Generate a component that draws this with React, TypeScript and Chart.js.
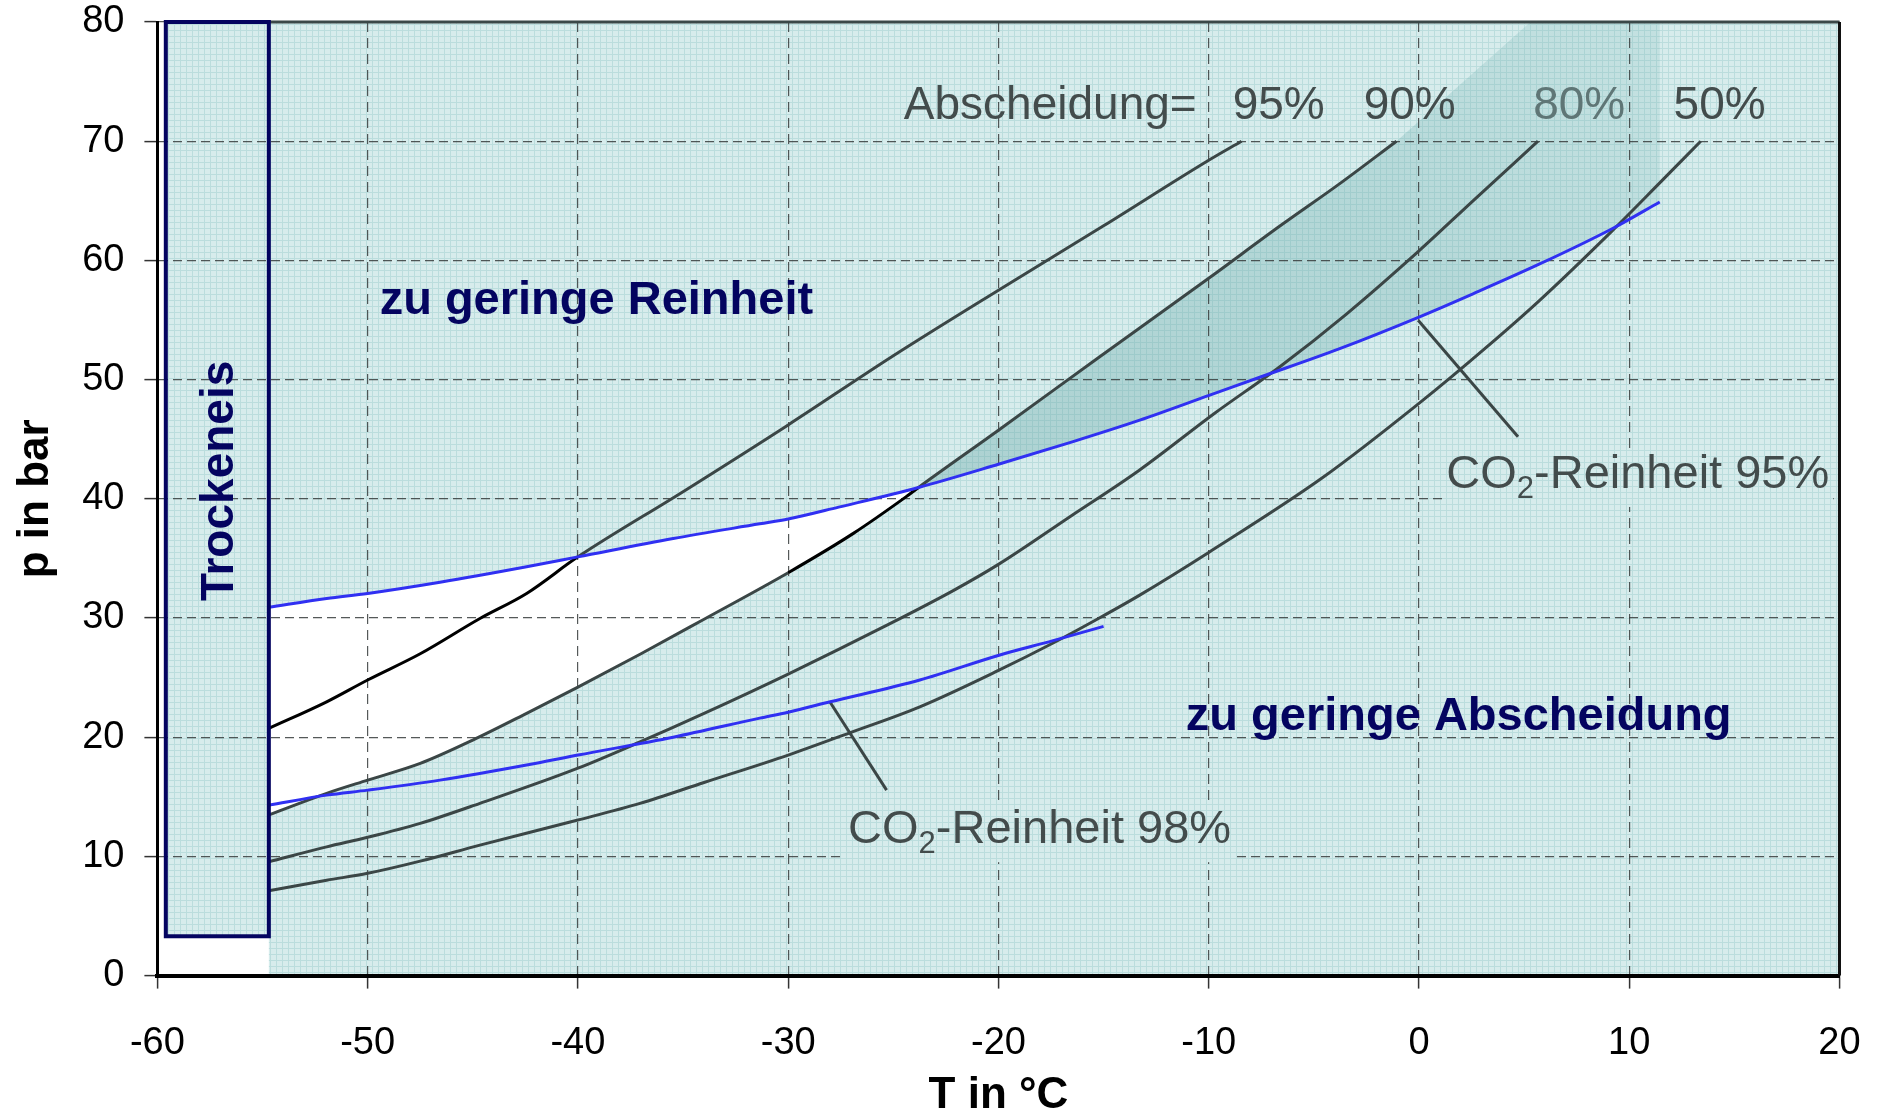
import React, { useEffect, useRef } from 'react';
import { Chart, registerables } from 'chart.js';

Chart.register(...registerables);

// ---------- axes ----------
const X_MIN = -60;
const X_MAX = 20;
const Y_MIN = 0;
const Y_MAX = 80;
const STEP = 10;

// ---------- Abscheidung curves (T in °C, p in bar) ----------
const T_A95 = [-54.7, -51.95, -50, -47.5, -44.66, -42.44, -40, -35, -30, -25, -20, -15, -10, -8.44];
const P_A95 = [20.74, 22.97, 24.8, 27.0, 29.96, 32.06, 35.13, 40.6, 46.2, 52.0, 57.5, 62.9, 68.4, 70.0];

const T_A90 = [-54.7, -51.95, -50, -47.5, -45, -42.44, -40, -37, -34, -30, -26.9, -24.4, -23.8, -20, -15.2, -10, -6.6, -3.8, -1.07];
const P_A90 = [13.48, 15.29, 16.4, 17.8, 19.76, 22.0, 24.2, 27.0, 29.9, 33.8, 37.1, 40.16, 40.95, 45.75, 51.9, 58.5, 62.9, 66.4, 70.0];

const T_A80 = [-54.7, -51.95, -50, -47.5, -44.66, -40, -37.05, -34, -30, -25.3, -22.15, -20, -16.6, -13.3, -9.7, -6.6, -3.45, 0, 2.57, 5.66];
const P_A80 = [9.55, 10.8, 11.6, 12.77, 14.45, 17.4, 19.6, 22.0, 25.3, 29.4, 32.3, 34.5, 38.5, 42.4, 47.2, 51.1, 55.5, 60.8, 65.0, 70.0];

const T_A50 = [-54.7, -51.95, -50, -47.5, -44.66, -40, -37.05, -34, -30, -27.07, -23.74, -20, -17.4, -15.2, -13.3, -10, -4.56, 0, 3.2, 5.74, 9.2, 11.45, 13.4];
const P_A50 = [7.12, 8.0, 8.58, 9.6, 10.95, 13.05, 14.45, 16.2, 18.5, 20.37, 22.55, 25.6, 27.9, 30.0, 31.9, 35.5, 41.8, 48.0, 52.7, 56.65, 62.5, 66.5, 70.0];

// ---------- CO2-Reinheit curves ----------
const T_R95 = [-54.7, -51.95, -50, -46.56, -42.44, -40, -35.47, -31.35, -30, -27.6, -23.8, -20, -16.45, -13.28, -9.95, -7.57, -3.77, 0, 2.57, 5.74, 9.23, 11.45];
const P_R95 = [30.9, 31.64, 32.06, 33.0, 34.3, 35.13, 36.67, 37.9, 38.3, 39.3, 40.95, 42.9, 44.8, 46.6, 48.7, 50.2, 52.6, 55.25, 57.2, 59.7, 62.7, 64.9];

const T_R98 = [-54.7, -51.95, -50, -46.56, -42.44, -40, -35.47, -31.35, -30, -28, -23.74, -19.93, -17.4, -15];
const P_R98 = [14.3, 15.14, 15.56, 16.4, 17.66, 18.5, 20.0, 21.6, 22.1, 22.97, 24.8, 26.9, 28.1, 29.3];

// ---------- leader lines ----------
const T_LEAD95 = [-0.04, 4.71];
const P_LEAD95 = [54.98, 45.2];
const T_LEAD98 = [-28.02, -25.32];
const P_LEAD98 = [22.97, 15.56];

// ---------- regions ----------
const ICE_T = [-59.6, -54.7];
const ICE_P = [3.3, 80];
const WHITE_LIMIT_T = -23.8;
const SHADE_CORNER_T = [5.3, 11.45];
const SHADE_CORNER_P = [80, 80];

// ---------- labels ----------
const ABSCH_LABELS = ['Abscheidung=', '95%', '90%', '80%', '50%'];
const ABSCH_LABEL_T = [-24.5, -8.86, -2.63, 5.43, 12.11];
const ABSCH_LABEL_P = 72.9;
const REGION_LABELS = ['zu geringe Reinheit', 'zu geringe Abscheidung'];
const REGION_LABEL_T = [-49.43, -11.09];
const REGION_LABEL_P = [56.6, 21.7];
const PURITY_SUFFIX = ['-Reinheit 95%', '-Reinheit 98%'];
const PURITY_LABEL_T = [1.3, -27.15];
const PURITY_LABEL_P = [42.0, 12.2];
const ICE_LABEL = 'Trockeneis';
const ICE_LABEL_T = -57.03;
const ICE_LABEL_P = 41.5;

const GRAY = '#3b4646';
const BLUE = '#3030f2';
const NAVY = '#040460';
const LABEL_GRAY = '#434c4c';
const FONT = '"Liberation Sans", Arial, sans-serif';

const pts = (xs: number[], ys: number[]) => xs.map((x, i) => ({ x, y: ys[i] }));

let patternCache: CanvasPattern | null = null;
function getPattern(ctx: CanvasRenderingContext2D) {
  if (patternCache) return patternCache;
  const c = document.createElement('canvas');
  c.width = 6;
  c.height = 6;
  const g = c.getContext('2d')!;
  g.fillStyle = '#d7ecec';
  g.fillRect(0, 0, 6, 6);
  g.fillStyle = '#bbdddd';
  g.fillRect(0, 0, 6, 1);
  g.fillRect(0, 0, 1, 6);
  patternCache = ctx.createPattern(c, 'repeat');
  return patternCache!;
}

const regionsPlugin = {
  id: 'regions',
  beforeDraw(chart: any) {
    const { ctx } = chart;
    const sx = chart.scales.x;
    const sy = chart.scales.y;
    const X = (v: number) => sx.getPixelForValue(v);
    const Y = (v: number) => sy.getPixelForValue(v);
    ctx.save();
    const pat = getPattern(ctx);
    ctx.fillStyle = pat;
    ctx.fillRect(X(ICE_T[1]), Y(Y_MAX), X(X_MAX) - X(ICE_T[1]), Y(Y_MIN) - Y(Y_MAX));
    ctx.fillRect(X(ICE_T[0]), Y(ICE_P[1]), X(ICE_T[1]) - X(ICE_T[0]), Y(ICE_P[0]) - Y(ICE_P[1]));

    // white feasible region
    const upper = pts(T_R95, P_R95).filter((p) => p.x <= WHITE_LIMIT_T + 1e-6);
    const lower = pts(T_A90, P_A90).filter((p) => p.x <= WHITE_LIMIT_T + 1e-6).reverse();
    ctx.beginPath();
    [...upper, ...lower].forEach((p, i) => (i ? ctx.lineTo(X(p.x), Y(p.y)) : ctx.moveTo(X(p.x), Y(p.y))));
    ctx.closePath();
    ctx.fillStyle = '#ffffff';
    ctx.fill();

    // shaded region
    const left = pts(T_A90, P_A90).filter((p) => p.x >= WHITE_LIMIT_T - 1e-6);
    const corner = pts(SHADE_CORNER_T, SHADE_CORNER_P);
    const bottom = pts(T_R95, P_R95).filter((p) => p.x >= WHITE_LIMIT_T - 1e-6).reverse();
    ctx.beginPath();
    [...left, ...corner, ...bottom].forEach((p, i) => (i ? ctx.lineTo(X(p.x), Y(p.y)) : ctx.moveTo(X(p.x), Y(p.y))));
    ctx.closePath();
    const grad = ctx.createLinearGradient(X(-20), Y(42), X(8), Y(80));
    grad.addColorStop(0, 'rgba(100,165,165,0.36)');
    grad.addColorStop(0.6, 'rgba(100,168,168,0.30)');
    grad.addColorStop(1, 'rgba(115,178,178,0.20)');
    ctx.fillStyle = grad;
    ctx.fill();
    ctx.restore();
  },
  afterDatasetsDraw(chart: any) {
    const { ctx } = chart;
    const sx = chart.scales.x;
    const sy = chart.scales.y;
    const X = (v: number) => sx.getPixelForValue(v);
    const Y = (v: number) => sy.getPixelForValue(v);
    ctx.save();
    // frame: top and right
    ctx.strokeStyle = '#3a4848';
    ctx.lineWidth = 3;
    ctx.beginPath();
    ctx.moveTo(X(ICE_T[1]), Y(Y_MAX));
    ctx.lineTo(X(X_MAX), Y(Y_MAX));
    ctx.stroke();
    ctx.strokeStyle = '#111';
    ctx.beginPath();
    ctx.moveTo(X(X_MAX), Y(Y_MAX));
    ctx.lineTo(X(X_MAX), Y(Y_MIN));
    ctx.stroke();

    // dry ice box border
    ctx.strokeStyle = NAVY;
    ctx.lineWidth = 4;
    ctx.strokeRect(X(ICE_T[0]), Y(ICE_P[1]), X(ICE_T[1]) - X(ICE_T[0]), Y(ICE_P[0]) - Y(ICE_P[1]));

    // Trockeneis label
    ctx.save();
    ctx.translate(X(ICE_LABEL_T), Y(ICE_LABEL_P));
    ctx.rotate(-Math.PI / 2);
    ctx.fillStyle = NAVY;
    ctx.font = `bold 46px ${FONT}`;
    ctx.textAlign = 'center';
    ctx.textBaseline = 'middle';
    ctx.fillText(ICE_LABEL, 0, 0);
    ctx.restore();

    // region labels
    ctx.fillStyle = NAVY;
    ctx.font = `bold 47px ${FONT}`;
    ctx.textAlign = 'left';
    ctx.textBaseline = 'middle';
    REGION_LABELS.forEach((t, i) => ctx.fillText(t, X(REGION_LABEL_T[i]), Y(REGION_LABEL_P[i])));

    // Abscheidung labels
    ctx.font = `46px ${FONT}`;
    ABSCH_LABELS.forEach((t, i) => {
      ctx.fillStyle = i === 3 ? '#5f7676' : LABEL_GRAY;
      ctx.fillText(t, X(ABSCH_LABEL_T[i]), Y(ABSCH_LABEL_P));
    });

    // purity labels with subscript, on patterned background
    const pat = getPattern(ctx);
    PURITY_SUFFIX.forEach((suffix, i) => {
      const x0 = X(PURITY_LABEL_T[i]);
      const y0 = Y(PURITY_LABEL_P[i]);
      ctx.font = `47px ${FONT}`;
      const wCO = ctx.measureText('CO').width;
      ctx.font = `31px ${FONT}`;
      const w2 = ctx.measureText('2').width;
      ctx.font = `47px ${FONT}`;
      const wS = ctx.measureText(suffix).width;
      ctx.fillStyle = pat;
      ctx.fillRect(x0 - 4, y0 - 26, wCO + w2 + wS + 8, 58);
      ctx.fillStyle = LABEL_GRAY;
      ctx.fillText('CO', x0, y0);
      ctx.font = `31px ${FONT}`;
      ctx.fillText('2', x0 + wCO, y0 + 14);
      ctx.font = `47px ${FONT}`;
      ctx.fillText(suffix, x0 + wCO + w2, y0);
    });
    ctx.restore();
  },
};

export default function App() {
  const ref = useRef<HTMLCanvasElement | null>(null);
  useEffect(() => {
    if (!ref.current) return;
    const line = (data: any[], color: string, extra: any = {}) => ({
      type: 'line',
      data,
      showLine: true,
      borderColor: color,
      borderWidth: 3,
      pointRadius: 0,
      cubicInterpolationMode: 'monotone',
      fill: false,
      ...extra,
    });
    const chart = new Chart(ref.current, {
      type: 'scatter',
      data: {
        datasets: [
          line(pts(T_R95, P_R95), BLUE) as any,
          line(pts(T_R98, P_R98), BLUE) as any,
          line(pts(T_A95, P_A95), GRAY, {
            segment: { borderColor: (c: any) => (c.p1.parsed.x <= -40 + 1e-6 ? '#000000' : GRAY) },
          }) as any,
          line(pts(T_A90, P_A90), GRAY, {
            segment: {
              borderColor: (c: any) =>
                c.p0.parsed.x >= -30 - 1e-6 && c.p1.parsed.x <= WHITE_LIMIT_T + 1e-6 ? '#000000' : GRAY,
            },
          }) as any,
          line(pts(T_A80, P_A80), GRAY) as any,
          line(pts(T_A50, P_A50), GRAY) as any,
          line(pts(T_LEAD95, P_LEAD95), GRAY, { cubicInterpolationMode: 'default', tension: 0 }) as any,
          line(pts(T_LEAD98, P_LEAD98), GRAY, { cubicInterpolationMode: 'default', tension: 0 }) as any,
        ],
      },
      options: {
        responsive: false,
        devicePixelRatio: 1,
        animation: false,
        events: [],
        layout: { padding: { left: 0, top: 22, right: 44.5, bottom: 0 } },
        plugins: { legend: { display: false }, tooltip: { enabled: false } },
        scales: {
          x: {
            type: 'linear',
            min: X_MIN,
            max: X_MAX,
            ticks: {
              stepSize: STEP,
              color: '#000',
              font: { family: FONT, size: 38, lineHeight: 1 },
              padding: 36,
              maxRotation: 0,
            },
            grid: {
              color: 'rgba(55,60,60,0.85)',
              lineWidth: 1.2,
              tickLength: 13,
              tickColor: '#333',
              tickWidth: 1.5,
            },
            border: { display: true, color: '#000', width: 4, dash: [10, 6] },
            title: {
              display: true,
              text: 'T in °C',
              color: '#000',
              font: { family: FONT, size: 44, weight: 'bold', lineHeight: 1.1 },
              padding: { top: 0, bottom: 0 },
            },
            afterFit: (s: any) => {
              s.height = 144.4;
              s.paddingLeft = 0;
              s.paddingRight = 0;
            },
          },
          y: {
            type: 'linear',
            min: Y_MIN,
            max: Y_MAX,
            ticks: {
              stepSize: STEP,
              color: '#000',
              font: { family: FONT, size: 38, lineHeight: 1 },
              padding: 20,
            },
            grid: {
              color: 'rgba(55,60,60,0.85)',
              lineWidth: 1.2,
              tickLength: 13,
              tickColor: '#333',
              tickWidth: 1.5,
            },
            border: { display: true, color: '#000', width: 3, dash: [9, 5] },
            title: {
              display: true,
              text: 'p in bar',
              color: '#000',
              font: { family: FONT, size: 44, weight: 'bold', lineHeight: 1.1 },
              padding: { top: 12, bottom: 0 },
            },
            afterFit: (s: any) => {
              s.width = 157.4;
              s.paddingTop = 0;
              s.paddingBottom = 0;
            },
          },
        },
      } as any,
      plugins: [regionsPlugin],
    });
    return () => chart.destroy();
  }, []);

  return (
    <div style={{ position: 'fixed', left: 0, top: 0, width: 1884, height: 1120, background: '#ffffff' }}>
      <canvas ref={ref} width={1884} height={1120} style={{ display: 'block', width: 1884, height: 1120 }} />
    </div>
  );
}
